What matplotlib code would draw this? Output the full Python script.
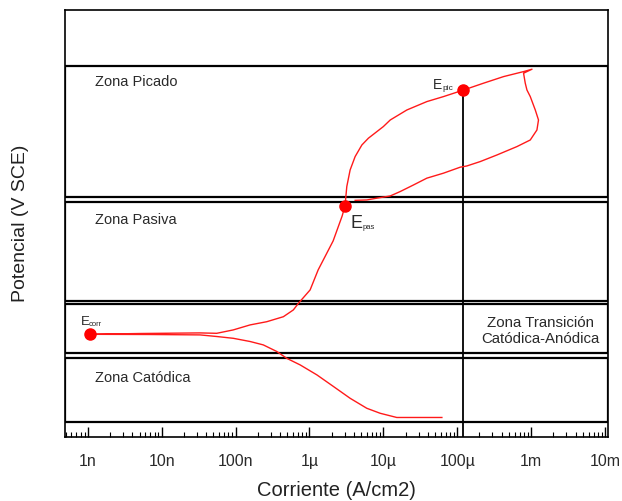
import matplotlib
matplotlib.use('Agg')
import matplotlib.pyplot as plt
from matplotlib.ticker import FixedLocator, NullFormatter, LogLocator

plt.rcParams['font.family'] = ['Liberation Sans', 'DejaVu Sans']

# polarization curve: current (A/cm2) and potential (V)
corriente = [6.2e-5, 1.52e-5, 9.06e-6, 5.97e-6, 3.55e-6, 2.11e-6, 1.26e-6, 7.47e-7,
             4.92e-7, 3.61e-7, 2.37e-7, 1.57e-7, 9.3e-8, 5.55e-8, 3.3e-8, 6.9e-9,
             1.06e-9, 5.07e-9, 3.3e-8, 5.55e-8, 9.3e-8, 1.57e-7, 2.64e-7, 4.43e-7,
             6.05e-7, 7.08e-7, 1.02e-6, 1.31e-6, 2.09e-6, 2.77e-6, 3.03e-6, 3.2e-6,
             3.55e-6, 4.15e-6, 5.12e-6, 6.28e-6, 1.0e-5, 1.24e-5, 2.08e-5, 3.88e-5,
             6.52e-5, 1.22e-4, 2.27e-4, 4.24e-4, 7.91e-4, 1.03e-3,
             7.91e-4, 8.34e-4, 8.79e-4, 9.75e-4, 1.14e-3, 1.26e-3, 1.2e-3, 9.75e-4,
             6.44e-4, 3.45e-4, 2.05e-4, 1.35e-4, 1.1e-4, 6.52e-5, 3.88e-5, 2.56e-5,
             1.69e-5, 1.24e-5, 8.17e-6, 5.97e-6, 4.15e-6]
potencial = [-0.903, -0.903, -0.882, -0.857, -0.807, -0.748, -0.69, -0.64,
             -0.607, -0.573, -0.54, -0.523, -0.507, -0.498, -0.49, -0.488,
             -0.487, -0.483, -0.48, -0.482, -0.465, -0.44, -0.424, -0.399,
             -0.365, -0.332, -0.265, -0.165, -0.02, 0.105, 0.157, 0.252,
             0.335, 0.402, 0.46, 0.494, 0.552, 0.585, 0.635, 0.677,
             0.702, 0.735, 0.769, 0.802, 0.827, 0.839,
             0.819, 0.769, 0.735, 0.702, 0.635, 0.585, 0.535, 0.485,
             0.452, 0.41, 0.377, 0.355, 0.349, 0.319, 0.294, 0.26,
             0.227, 0.205, 0.194, 0.185, 0.183]

# characteristic points
puntos_i = [1.06e-9, 3.03e-6, 1.2e-4]
puntos_e = [-0.487, 0.157, 0.735]

# zones (bottom, top) in V
zonas = [(0.20, 0.855), (-0.32, 0.175), (-0.58, -0.335), (-0.925, -0.605)]

tick_vals = [1e-9, 1e-8, 1e-7, 1e-6, 1e-5, 1e-4, 1e-3, 1e-2]
tick_labels = ['1n', '10n', '100n', '1µ', '10µ', '100µ', '1m', '10m']

txt = '#2a2a2a'

fig = plt.figure(figsize=(6.22, 5.01), dpi=100)
ax = fig.add_axes([0.1045, 0.128, 0.873, 0.852])
ax.set_xscale('log')
ax.set_xlim(4.9e-10, 1.1e-2)
ax.set_ylim(-1.0, 1.135)

for lo, hi in zonas:
    ax.axhspan(lo, hi, facecolor='none', edgecolor='black', lw=1.6, zorder=1)

ax.plot([puntos_i[2], puntos_i[2]], [-1.0, puntos_e[2]], color='black', lw=1.3, zorder=2)
ax.plot(corriente, potencial, color='#ff1a1a', lw=1.0, zorder=3)
ax.plot(puntos_i, puntos_e, 'o', color='#ff0000', ms=8, zorder=4)

ax.text(1.24e-9, 0.775, 'Zona Picado', fontsize=10.5, color=txt, va='center')
ax.text(1.24e-9, 0.085, 'Zona Pasiva', fontsize=10.5, color=txt, va='center')
ax.text(1.24e-9, -0.705, 'Zona Catódica', fontsize=10.5, color=txt, va='center')
ax.text(1.33e-3, -0.47, 'Zona Transición\nCatódica-Anódica', fontsize=10.8, color=txt,
        ha='center', va='center', linespacing=1.25)


def etiqueta(x, y, base, sub, fs, fs_sub, dx):
    ax.text(x, y, base, fontsize=fs, color=txt, ha='left', va='baseline')
    ax.annotate(sub, (x, y), xytext=(dx, -1), textcoords='offset points',
                fontsize=fs_sub, color=txt, ha='left', va='baseline')


etiqueta(4.7e-5, 0.74, 'E', 'pic', 10, 6, 6.5)
etiqueta(3.6e-6, 0.045, 'E', 'pas', 13, 5.5, 8.5)
etiqueta(0.8e-9, -0.44, 'E', 'corr', 9.5, 5.5, 6)

ax.xaxis.set_major_locator(FixedLocator(tick_vals))
ax.set_xticklabels(tick_labels, fontsize=11.5, color=txt)
ax.xaxis.set_minor_locator(LogLocator(base=10, subs=range(2, 10), numticks=20))
ax.xaxis.set_minor_formatter(NullFormatter())
ax.tick_params(axis='x', which='major', direction='in', length=7, width=1, pad=12)
ax.tick_params(axis='x', which='minor', direction='in', length=3.5, width=0.8)
ax.set_yticks([])
for s in ax.spines.values():
    s.set_linewidth(1.2)

ax.set_xlabel('Corriente (A/cm2)', fontsize=14.5, color='#222222', labelpad=9)
ax.set_ylabel('Potencial (V SCE)', fontsize=14, color='#222222', labelpad=26)

fig.savefig('out.png', dpi=100)
